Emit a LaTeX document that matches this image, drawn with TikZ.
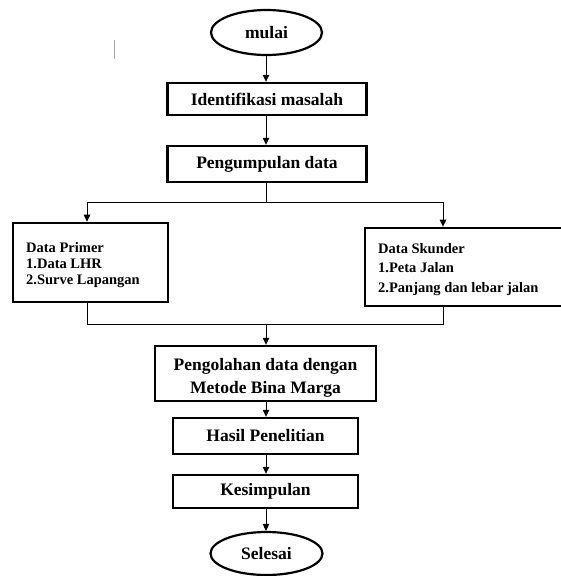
\documentclass[tikz,border=0pt]{standalone}
\usepackage{fontspec}
\setmainfont{Liberation Serif}
\usetikzlibrary{arrows.meta,shapes.geometric}
\begin{document}
\begin{tikzpicture}[x=1pt,y=-1pt,
  box/.style={draw, line width=2.4pt, rectangle, inner sep=0pt, align=center, font=\bfseries\fontsize{17.5}{23}\selectfont},
  term/.style={draw, line width=2.2pt, ellipse, inner sep=0pt, font=\bfseries\fontsize{17.5}{20}\selectfont},
  databox/.style={draw, line width=2.6pt, rectangle, inner sep=0pt},
  datatext/.style={inner sep=0pt, anchor=north west, align=left},
  arr/.style={line width=1pt, -{Triangle[length=7pt,width=6.5pt]}},
  link/.style={line width=1pt}]
\useasboundingbox (0,0) rectangle (561,576);

% text cursor
\coordinate (curA) at (114,40);
\coordinate (curB) at (114,59);
\draw[gray!70, line width=1pt] (curA) -- (curB);

\node[term, minimum width=111pt, minimum height=45pt] (mulai) at (266.5,32.5) {mulai};
\node[box, minimum width=199pt, minimum height=32pt] (ident) at (267,99) {Identifikasi masalah};
\node[box, minimum width=199pt, minimum height=36pt] (kumpul) at (267,164) {Pengumpulan data};

\node[databox, minimum width=155pt, minimum height=79pt] (primer) at (90.5,262.5) {};
\node[datatext, font=\bfseries\fontsize{14.5}{16}\selectfont] (primerT) at (26,242)
  {Data Primer\\1.Data LHR\\2.Surve Lapangan};
\node[databox, minimum width=200pt, minimum height=78pt] (skunder) at (465,267) {};
\node[datatext, font=\bfseries\fontsize{14.5}{19.5}\selectfont] (skunderT) at (378,243)
  {Data Skunder\\1.Peta Jalan\\2.Panjang dan lebar jalan};

\node[box, minimum width=221pt, minimum height=55pt] (olah) at (265.5,373.5) {};
\node[inner sep=0pt, anchor=north, align=center, font=\bfseries\fontsize{17.5}{23}\selectfont] (olahT) at (265.5,358)
  {Pengolahan data dengan\\Metode Bina Marga};
\node[box, minimum width=185pt, minimum height=36pt] (hasil) at (265.5,436) {Hasil Penelitian};
\node[box, minimum width=185pt, minimum height=33pt] (simpul) at (265.5,491.5) {Kesimpulan};
\node[term, minimum width=112pt, minimum height=43pt] (selesai) at (266.5,553.5) {Selesai};

% main flow
\draw[arr] (mulai.south -| 266,0) -- (ident.north -| 266,0);
\draw[arr] (ident.south -| 266,0) -- (kumpul.north -| 266,0);

\coordinate (split) at (266,202);
\coordinate (splitL) at (87,202);
\coordinate (splitR) at (443,202);
\draw[link] (kumpul.south -| split) -- (split);
\draw[link] (splitL) -- (splitR);
\draw[arr] (splitL) -- (splitL |- primer.north);
\draw[arr] (splitR) -- (splitR |- skunder.north);

\coordinate (join) at (266,324);
\coordinate (joinL) at (87,324);
\coordinate (joinR) at (443,324);
\draw[link] (primer.south -| joinL) -- (joinL) -- (joinR) -- (skunder.south -| joinR);
\draw[arr] (join) -- (olah.north -| join);

\draw[arr] (olah.south -| join) -- (hasil.north -| join);
\draw[arr] (hasil.south -| join) -- (simpul.north -| join);
\draw[arr] (simpul.south -| join) -- (selesai.north -| join);
\end{tikzpicture}
\end{document}
